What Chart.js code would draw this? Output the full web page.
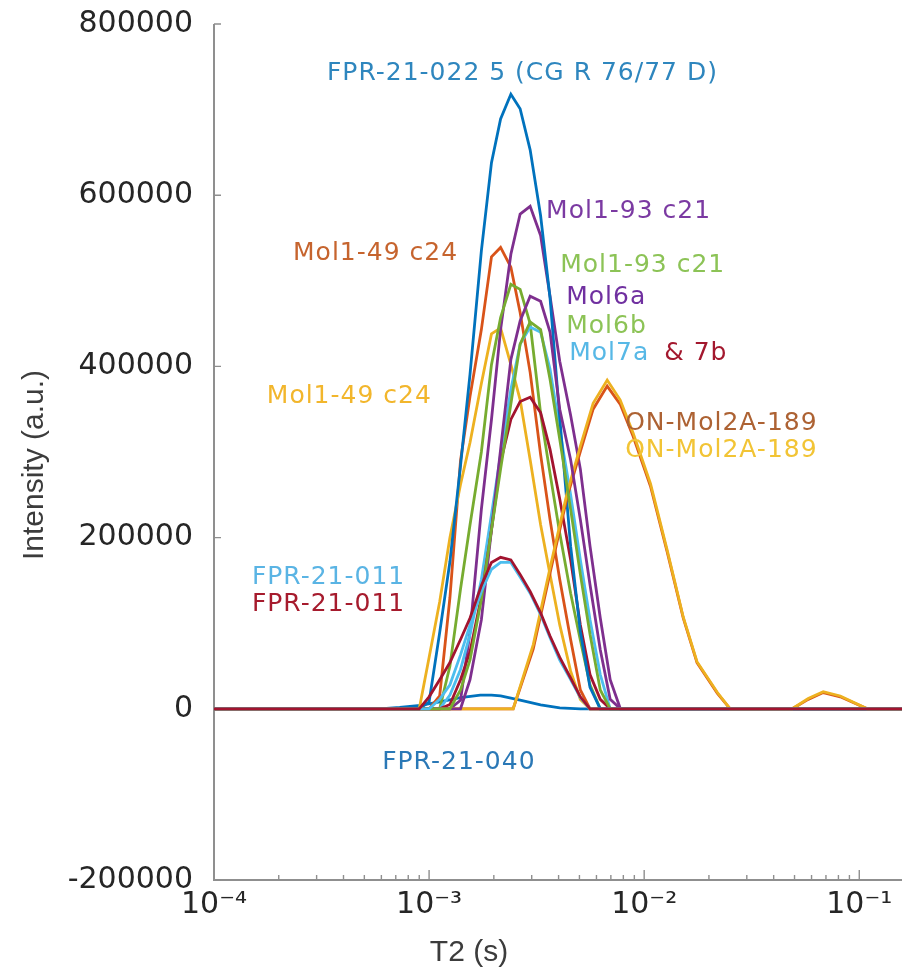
<!DOCTYPE html>
<html>
<head>
<meta charset="utf-8">
<script src="https://cdn.jsdelivr.net/npm/chart.js@4.4.1/dist/chart.umd.min.js"></script>
<style>
html,body{margin:0;padding:0;background:#ffffff;}
canvas{display:block;}
</style>
</head>
<body>
<canvas id="c" width="902" height="972" style="width:902px;height:972px"></canvas>
<script>
// ---------- data (T2 in seconds, intensity in a.u.) ----------
const t2Grid = [1e-4, 9.0e-4, 1.0e-3, 1.12e-3, 1.25e-3, 1.4e-3, 1.55e-3, 1.75e-3, 1.95e-3, 2.15e-3, 2.4e-3, 2.65e-3, 2.95e-3, 3.3e-3, 3.65e-3, 4.05e-3, 4.55e-3, 5.05e-3, 5.6e-3, 6.25e-3, 6.95e-3, 7.75e-3, 0.158];

const fpr022     = [0,0,8000,89000,172000,284000,391000,535000,638000,689000,718000,701000,653000,576000,480000,340000,190000,90000,25000,0,0,0,0];
const mol149Orng = [0,0,0,15000,130000,290000,365000,443000,528000,539000,516000,463000,393000,297000,221000,151000,81000,22000,0,0,0,0,0];
const mol149Yell = [0,0,60000,125000,200000,262000,311000,380000,438000,445000,402000,361000,291000,215000,157000,98000,44000,11000,0,0,0,0,0];
const mol193Purp = [0,0,0,0,0,10000,90000,233000,338000,443000,531000,578000,587000,553000,482000,406000,343000,280000,190000,106000,34000,0,0];
const mol193Grn  = [0,0,0,0,50000,140000,215000,300000,402000,457000,496000,490000,450000,345000,275000,205000,135000,80000,28000,0,0,0,0];
const mol6a      = [0,0,0,0,0,0,34000,104000,209000,303000,408000,453000,482000,476000,440000,350000,291000,221000,145000,69000,11000,0,0];
const mol6b      = [0,0,0,0,0,22000,57000,128000,209000,280000,356000,426000,452000,443000,385000,315000,233000,157000,87000,22000,0,0,0];
const mol7a      = [0,0,0,0,16000,46000,87000,151000,227000,297000,373000,426000,446000,440000,397000,326000,250000,174000,104000,40000,0,0,0];
const mol7b      = [0,0,0,0,5000,34000,67000,131000,209000,288000,338000,359000,364000,346000,303000,245000,174000,98000,40000,11000,0,0,0];
const fpr011Red  = [0,0,14000,34000,54000,81000,106000,144000,171000,177000,174000,157000,137000,112000,85000,60000,36000,14000,0,0,0,0,0];
const fpr011Blue = [0,0,0,11000,28000,63000,98000,137000,163000,171000,171000,154000,135000,110000,83000,57000,34000,13000,0,0,0,0,0];

const t2Fpr040 = [1e-4, 5.9e-4, 7.3e-4, 9.1e-4, 1.12e-3, 1.4e-3, 1.73e-3, 1.95e-3, 2.15e-3, 2.65e-3, 3.3e-3, 4.05e-3, 5.05e-3, 0.158];
const fpr040   = [0,0,1500,4000,8000,13000,16000,16000,15000,10000,4500,1000,0,0];

const t2OnMol = [1e-4, 2.46e-3, 3.05e-3, 3.66e-3, 4.38e-3, 5.04e-3, 5.79e-3, 6.73e-3, 7.73e-3, 8.89e-3, 1.07e-2, 1.28e-2, 1.52e-2, 1.76e-2, 2.19e-2, 2.51e-2, 4.88e-2, 5.79e-2, 6.8e-2, 8.16e-2, 0.109, 0.158];
const onMolYell = [0,0,75000,166000,252000,306000,357000,384000,361000,322000,263000,185000,107000,55000,19000,0,0,12000,20000,15000,0,0];
const onMolOrng = [0,0,70000,160000,247000,300000,350000,377000,356000,318000,260000,183000,106000,54000,18000,0,0,11000,19000,14000,0,0];

const yTicks = [-200000, 0, 200000, 400000, 600000, 800000];
const xDecades = [-4, -3, -2, -1];

// ---------- styling ----------
const COL = {blue:'#0072BD', orange:'#D95319', yellow:'#EDB120', purple:'#7E2F8E', green:'#77AC30', lblue:'#4DBEEE', dred:'#A2142F'};

const seriesTable = [
  {name:'FPR-21-040',           t2:t2Fpr040, v:fpr040,     c:COL.blue},
  {name:'Mol1-49 c24 (a)',      t2:t2Grid,   v:mol149Orng, c:COL.orange},
  {name:'Mol1-49 c24 (b)',      t2:t2Grid,   v:mol149Yell, c:COL.yellow},
  {name:'Mol1-93 c21 (a)',      t2:t2Grid,   v:mol193Purp, c:COL.purple},
  {name:'Mol1-93 c21 (b)',      t2:t2Grid,   v:mol193Grn,  c:COL.green},
  {name:'Mol7a',                t2:t2Grid,   v:mol7a,      c:COL.lblue},
  {name:'7b',                   t2:t2Grid,   v:mol7b,      c:COL.dred},
  {name:'FPR-21-022 5',         t2:t2Grid,   v:fpr022,     c:COL.blue},
  {name:'ON-Mol2A-189 (a)',     t2:t2OnMol,  v:onMolOrng,  c:COL.orange},
  {name:'ON-Mol2A-189 (b)',     t2:t2OnMol,  v:onMolYell,  c:COL.yellow},
  {name:'Mol6a',                t2:t2Grid,   v:mol6a,      c:COL.purple},
  {name:'Mol6b',                t2:t2Grid,   v:mol6b,      c:COL.green},
  {name:'FPR-21-011 (a)',       t2:t2Grid,   v:fpr011Blue, c:COL.lblue},
  {name:'FPR-21-011 (b)',       t2:t2Grid,   v:fpr011Red,  c:COL.dred}
];

const N = seriesTable.length;
const datasets = seriesTable.map((s, i) => ({
  label: s.name,
  data: s.t2.map((t, k) => ({x: t, y: s.v[k]})),
  borderColor: s.c,
  backgroundColor: s.c,
  borderWidth: 2.8,
  pointRadius: 0,
  tension: 0,
  fill: false,
  order: N - i
}));

// in-plot annotation labels (anchor: T2 of left edge, intensity of text middle)
const annotations = [
  {text:'FPR-21-022 5 (CG R 76/77 D)', t2:3.35e-4, y:742000, c:'#2E86BE'},
  {text:'Mol1-93 c21',  t2:3.50e-3, y:581000, c:'#7B3AA2'},
  {text:'Mol1-49 c24',  t2:2.33e-4, y:532000, c:'#C6642E'},
  {text:'Mol1-93 c21',  t2:4.07e-3, y:518000, c:'#8CC356'},
  {text:'Mol6a',        t2:4.34e-3, y:480000, c:'#7030A0'},
  {text:'Mol6b',        t2:4.34e-3, y:447000, c:'#8CC356'},
  {text:'Mol7a',        t2:4.48e-3, y:415000, c:'#57B8E6'},
  {text:'& 7b',         t2:1.24e-2, y:415000, c:'#A3182E'},
  {text:'Mol1-49 c24',  t2:1.76e-4, y:365000, c:'#F2B62C'},
  {text:'ON-Mol2A-189', t2:8.16e-3, y:333000, c:'#AD6233'},
  {text:'ON-Mol2A-189', t2:8.16e-3, y:302000, c:'#F2C435'},
  {text:'FPR-21-011',   t2:1.50e-4, y:153000, c:'#5AB4E4'},
  {text:'FPR-21-011',   t2:1.50e-4, y:122000, c:'#A61B2D'},
  {text:'FPR-21-040',   t2:6.05e-4, y:-63000, c:'#2A78B6'}
];

const SUP = {'-':'\u207B','0':'\u2070','1':'\u00B9','2':'\u00B2','3':'\u00B3','4':'\u2074','5':'\u2075','6':'\u2076','7':'\u2077','8':'\u2078','9':'\u2079'};
const sup = s => String(s).split('').map(ch => SUP[ch] || ch).join('');

const axesPlugin = {
  id: 'matlabAxes',
  beforeDatasetsDraw(chart) {
    const {ctx, chartArea: a, scales: {x, y}} = chart;
    ctx.save();
    ctx.strokeStyle = '#8f8f8f';
    ctx.lineWidth = 2;
    ctx.beginPath();
    ctx.moveTo(a.left, a.top);
    ctx.lineTo(a.left, a.bottom);
    ctx.lineTo(a.right, a.bottom);
    ctx.stroke();
    ctx.lineWidth = 1.4;
    ctx.beginPath();
    yTicks.forEach(v => {
      const p = y.getPixelForValue(v);
      ctx.moveTo(a.left, p); ctx.lineTo(a.left + 7, p);
    });
    xDecades.forEach(e => {
      for (let k = 1; k <= 9; k++) {
        const v = k * Math.pow(10, e);
        if (v > x.max) break;
        const p = x.getPixelForValue(v);
        const len = (k === 1) ? 10 : 5;
        ctx.moveTo(p, a.bottom); ctx.lineTo(p, a.bottom - len);
      }
    });
    ctx.stroke();
    ctx.restore();
  },
  afterDatasetsDraw(chart) {
    const {ctx, chartArea: a, scales: {x, y}} = chart;
    ctx.save();
    ctx.font = '25px "DejaVu Sans", sans-serif';
    try { ctx.letterSpacing = '1px'; } catch (e) {}
    ctx.textAlign = 'left';
    ctx.textBaseline = 'middle';
    annotations.forEach(l => {
      ctx.fillStyle = l.c;
      ctx.fillText(l.text, x.getPixelForValue(l.t2), y.getPixelForValue(l.y));
    });
    try { ctx.letterSpacing = '0px'; } catch (e) {}
    // axis titles
    ctx.fillStyle = '#3c3c3c';
    ctx.font = '30px "Liberation Sans", Arial, sans-serif';
    ctx.textAlign = 'center';
    ctx.textBaseline = 'middle';
    ctx.fillText('T2 (s)', 469, 953);
    ctx.translate(35, 465);
    ctx.rotate(-Math.PI / 2);
    ctx.fillText('Intensity (a.u.)', 0, 0);
    ctx.restore();
  }
};

new Chart(document.getElementById('c'), {
  type: 'line',
  data: {datasets},
  options: {
    responsive: false,
    animation: false,
    devicePixelRatio: 1,
    layout: {autoPadding: false, padding: {top: 24, right: 0, bottom: 0, left: 0}},
    plugins: {legend: {display: false}, tooltip: {enabled: false}, title: {display: false}},
    scales: {
      x: {
        type: 'logarithmic',
        min: 1e-4,
        max: 0.158,
        grid: {display: false, drawTicks: false},
        border: {display: false},
        ticks: {
          autoSkip: false, maxRotation: 0, minRotation: 0, padding: 7,
          color: '#262626',
          font: {family: '"DejaVu Sans", sans-serif', size: 30},
          callback: (v) => {
            const e = Math.log10(v);
            const r = Math.round(e);
            return (Math.abs(e - r) < 1e-6 && xDecades.includes(r)) ? '10' + sup(r) : '';
          }
        },
        afterFit: (s) => { s.height = 92; s.paddingLeft = 0; s.paddingRight = 0; }
      },
      y: {
        type: 'linear',
        min: -200000,
        max: 800000,
        grid: {display: false, drawTicks: false},
        border: {display: false},
        ticks: {
          stepSize: 200000, padding: 21,
          color: '#262626',
          font: {family: '"DejaVu Sans", sans-serif', size: 30},
          callback: (v) => String(v)
        },
        afterFit: (s) => { s.width = 214; s.paddingTop = 0; s.paddingBottom = 0; }
      }
    }
  },
  plugins: [axesPlugin]
});
</script>
</body>
</html>
